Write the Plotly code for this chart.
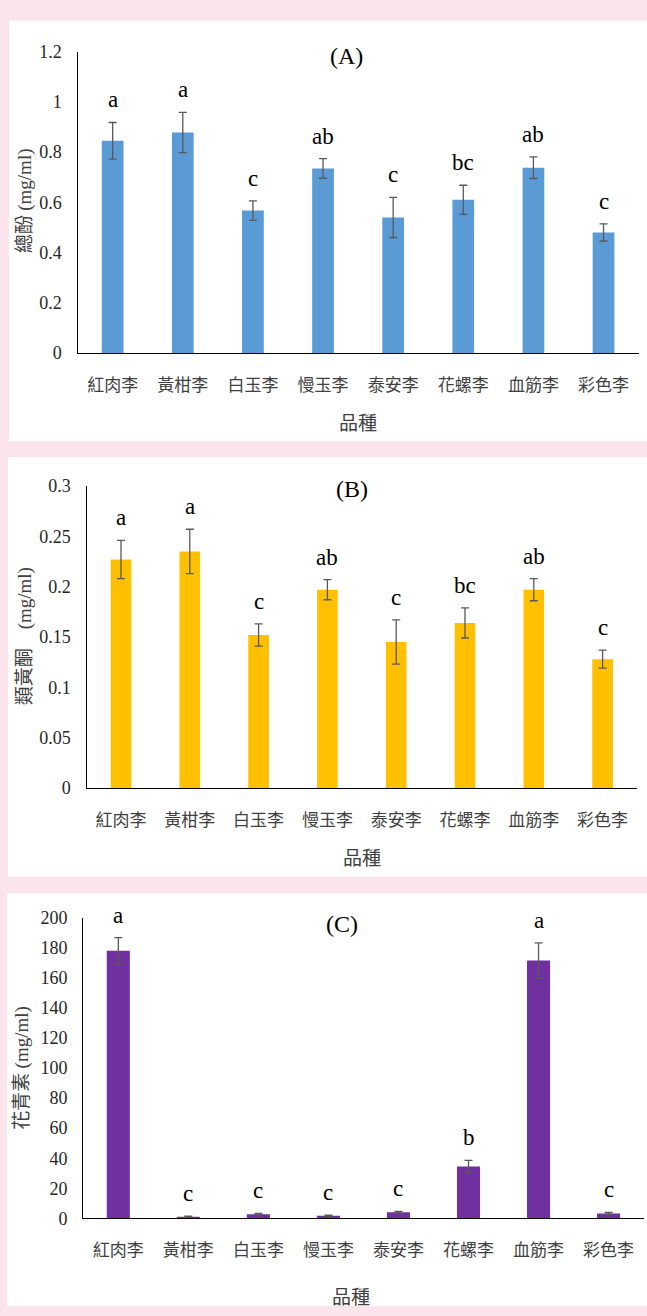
import plotly.graph_objects as go

W, H = 647, 1316

# Plum varieties (shared category axis for all three panels)
varieties = ["紅肉李", "黃柑李", "白玉李", "慢玉李", "泰安李", "花螺李", "血筋李", "彩色李"]

# (A) total phenols, mg/ml
phenol_mean = [0.845, 0.878, 0.567, 0.735, 0.540, 0.610, 0.738, 0.480]
phenol_err = [0.073, 0.080, 0.039, 0.039, 0.080, 0.058, 0.043, 0.034]
phenol_group = ["a", "a", "c", "ab", "c", "bc", "ab", "c"]

# (B) flavonoids, mg/ml
flavo_mean = [0.227, 0.235, 0.152, 0.197, 0.145, 0.164, 0.197, 0.128]
flavo_err = [0.019, 0.022, 0.011, 0.010, 0.022, 0.015, 0.011, 0.009]
flavo_group = ["a", "a", "c", "ab", "c", "bc", "ab", "c"]

# (C) anthocyanins, mg/ml
antho_mean = [178.0, 1.1, 2.8, 1.7, 4.1, 34.5, 171.5, 3.3]
antho_err = [8.7, 0.3, 0.5, 0.4, 0.6, 4.0, 11.8, 0.6]
antho_group = ["a", "c", "c", "c", "c", "b", "a", "c"]

SERIF = "Liberation Serif, Times New Roman, serif"
CJK = "Noto Sans CJK TC, Noto Sans CJK SC, sans-serif"
PAGE_BG = "#fce4ec"
ERR_COLOR = "#595959"


def px_x(px):
    return px / W


def px_y(py):
    return 1 - py / H


panels = [
    dict(mean=phenol_mean, err=phenol_err, group=phenol_group, color="#5b9bd5",
         width=0.31, ymax=1.2, dtick=0.2,
         xdom=(77.6, 638.6), ydom=(348.3, 42.3),
         box=(9, 11, 647, 438),
         tag="(A)", tag_pos=(347, 47),
         ytitle="總酚 <span style='font-family:Liberation Serif'>(mg/ml)</span>",
         ytitle_pos=(22, 194), xtitle_pos=(358, 418)),
    dict(mean=flavo_mean, err=flavo_err, group=flavo_group, color="#ffc000",
         width=0.30, ymax=0.3, dtick=0.05,
         xdom=(86.6, 637.0), ydom=(790.0, 483.3),
         box=(8, 454, 647, 880),
         tag="(B)", tag_pos=(351.5, 486),
         ytitle="類黃酮\u2003<span style='font-family:Liberation Serif'>(mg/ml)</span>",
         ytitle_pos=(22, 636), xtitle_pos=(362, 860)),
    dict(mean=antho_mean, err=antho_err, group=antho_group, color="#7030a0",
         width=0.33, ymax=200, dtick=20,
         xdom=(83.3, 643.6), ydom=(1227.0, 921.7),
         box=(7, 897, 647, 1316),
         tag="(C)", tag_pos=(342.4, 928),
         ytitle="花青素 <span style='font-family:Liberation Serif'>(mg/ml)</span>",
         ytitle_pos=(20, 1074), xtitle_pos=(351, 1305)),
]

fig = go.Figure()
shapes = []
annotations = []
layout_axes = {}

for i, p in enumerate(panels, start=1):
    suffix = "" if i == 1 else str(i)
    xa, ya = "x" + suffix, "y" + suffix

    fig.add_trace(go.Bar(
        x=varieties, y=p["mean"], width=p["width"],
        marker=dict(color=p["color"], line=dict(width=0)),
        error_y=dict(type="data", array=p["err"], color=ERR_COLOR,
                     thickness=1.3, width=4),
        xaxis=xa, yaxis=ya, showlegend=False, hoverinfo="x+y",
    ))

    layout_axes["xaxis" + suffix] = dict(
        domain=[px_x(p["xdom"][0]), px_x(p["xdom"][1])],
        anchor=ya, type="category", range=[-0.5, 7.5],
        showline=True, linecolor="black", linewidth=1.3,
        ticks="", showgrid=False, zeroline=False,
        tickfont=dict(family=CJK, size=17, color="#404040"),
        ticklabelstandoff=16,
    )
    layout_axes["yaxis" + suffix] = dict(
        domain=[px_y(p["ydom"][0]), px_y(p["ydom"][1])],
        anchor=xa, range=[0, p["ymax"]], dtick=p["dtick"], tick0=0,
        showline=True, linecolor="black", linewidth=1.3,
        ticks="", showgrid=False, zeroline=False,
        tickfont=dict(family=SERIF, size=18, color="#262626"),
        ticklabelstandoff=11,
    )

    # white card behind each panel
    x0, y0, x1, y1 = p["box"]
    shapes.append(dict(type="rect", xref="paper", yref="paper", layer="below",
                       x0=px_x(x0), x1=px_x(x1), y0=px_y(y1), y1=px_y(y0),
                       fillcolor="white", line=dict(width=0)))

    # significance letters above the error bars
    for cat, m, e, g in zip(varieties, p["mean"], p["err"], p["group"]):
        annotations.append(dict(
            x=cat, y=m + e, xref=xa, yref=ya, text=g, showarrow=False,
            xanchor="center", yanchor="bottom", yshift=8,
            font=dict(family=SERIF, size=23, color="black"),
        ))

    # panel tag
    annotations.append(dict(
        x=px_x(p["tag_pos"][0]), y=px_y(p["tag_pos"][1]), xref="paper", yref="paper",
        text=p["tag"], showarrow=False, xanchor="center", yanchor="middle",
        font=dict(family=SERIF, size=24, color="black"),
    ))
    # y axis title
    annotations.append(dict(
        x=px_x(p["ytitle_pos"][0]), y=px_y(p["ytitle_pos"][1]), xref="paper", yref="paper",
        text=p["ytitle"], showarrow=False, textangle=-90,
        xanchor="center", yanchor="middle",
        font=dict(family=CJK, size=19, color="#404040"),
    ))
    # x axis title
    annotations.append(dict(
        x=px_x(p["xtitle_pos"][0]), y=px_y(p["xtitle_pos"][1]), xref="paper", yref="paper",
        text="品種", showarrow=False, xanchor="center", yanchor="middle",
        font=dict(family=CJK, size=19, color="#404040"),
    ))

fig.update_layout(
    width=W, height=H,
    margin=dict(l=0, r=0, t=0, b=0),
    paper_bgcolor=PAGE_BG, plot_bgcolor="white",
    shapes=shapes, annotations=annotations,
    **layout_axes,
)

fig.write_html("out.html")
